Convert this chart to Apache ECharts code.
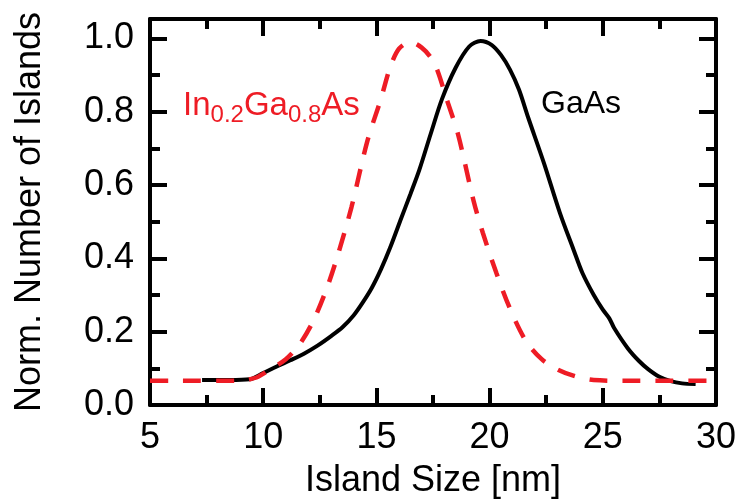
<!DOCTYPE html>
<html>
<head>
<meta charset="utf-8">
<script src="https://cdn.jsdelivr.net/npm/echarts@6/dist/echarts.min.js"></script>
<style>
html,body{margin:0;padding:0;background:#fff;}
#chart{width:742px;height:504px;}
</style>
</head>
<body>
<div id="chart"></div>
<script>
// ---- data ----
const gaasX = [7.3, 8.5, 9.4, 10.0, 10.6, 11.2, 11.8, 12.4, 13.0, 13.5, 14.0, 14.4, 14.8, 15.2, 15.6, 16.1, 16.5, 16.9, 17.4, 17.9, 18.5, 19.1, 19.6, 20.1, 20.5, 20.9, 21.3, 21.7, 22.4, 23.1, 23.7, 24.1, 24.6, 25.0, 25.3, 25.5, 26.1, 26.6, 27.0, 27.5, 28.0, 28.5, 29.1];
const gaasY = [0.068, 0.068, 0.070, 0.087, 0.105, 0.122, 0.140, 0.162, 0.188, 0.212, 0.245, 0.280, 0.320, 0.370, 0.428, 0.510, 0.575, 0.642, 0.740, 0.835, 0.920, 0.978, 0.993, 0.982, 0.955, 0.915, 0.860, 0.785, 0.660, 0.525, 0.425, 0.360, 0.300, 0.260, 0.235, 0.210, 0.155, 0.120, 0.098, 0.077, 0.065, 0.059, 0.057];
const ingaX = [5.0, 6.0, 7.0, 8.0, 9.0, 9.7, 10.3, 11.0, 11.6, 12.2, 12.8, 13.3, 13.9, 14.6, 15.2, 15.6, 16.0, 16.5, 17.0, 17.4, 17.7, 18.1, 18.6, 19.3, 19.7, 20.3, 20.9, 21.6, 22.3, 23.0, 23.8, 24.6, 26.0, 28.0, 30.0];
const ingaY = [0.066, 0.066, 0.066, 0.066, 0.067, 0.075, 0.097, 0.125, 0.165, 0.228, 0.317, 0.410, 0.540, 0.720, 0.835, 0.920, 0.972, 0.990, 0.975, 0.948, 0.912, 0.835, 0.740, 0.555, 0.470, 0.360, 0.263, 0.175, 0.125, 0.097, 0.078, 0.068, 0.066, 0.066, 0.066];
const xTickLabels = ['5', '10', '15', '20', '25', '30'];
const yTickLabels = ['0.0', '0.2', '0.4', '0.6', '0.8', '1.0'];
const labelGaAs = { x: 22.27, y: 0.82, text: 'GaAs' };
const labelInGa = { x: 6.46, y: 0.815, text: '{m|In}{s|0.2}{m|Ga}{s|0.8}{m|As}' };
const xTitle = 'Island Size [nm]';
const yTitle = 'Norm. Number of Islands';

// ---- chart ----
const FONT = "'Liberation Sans', Arial, sans-serif";
const RED = '#ee1c25';
const chart = echarts.init(document.getElementById('chart'), null, { renderer: 'canvas' });

const axLine = { show: true, onZero: false, lineStyle: { color: '#000', width: 4 } };
const zip = (xs, ys) => xs.map((x, i) => [x, ys[i]]);

function xAx(pos, labels) {
  return {
    type: 'value', position: pos, min: 5, max: 30, interval: 5,
    axisLine: axLine,
    axisTick: { show: true, inside: true, length: 17, lineStyle: { color: '#000', width: 4 } },
    minorTick: { show: true, splitNumber: 2, length: 10, lineStyle: { color: '#000', width: 4 } },
    splitLine: { show: false }, minorSplitLine: { show: false },
    axisLabel: {
      show: labels, margin: 15, fontSize: 36, fontFamily: FONT, color: '#000',
      formatter: v => { const i = xTickLabels.indexOf(String(v)); return i >= 0 ? xTickLabels[i] : ''; }
    },
    name: labels ? xTitle : '', nameLocation: 'middle', nameGap: 58,
    nameTextStyle: { fontSize: 36, fontFamily: FONT, color: '#000' }
  };
}
function yAx(pos, labels, interval, len, line) {
  return {
    type: 'value', position: pos, min: 0, max: 1.053, interval: interval,
    axisLine: line ? axLine : { show: false },
    axisTick: { show: true, inside: true, length: len, lineStyle: { color: '#000', width: 4 } },
    splitLine: { show: false },
    axisLabel: {
      show: labels, margin: 16, fontSize: 36, fontFamily: FONT, color: '#000',
      formatter: v => { const k = Math.round(v / 0.2); return Math.abs(v - k * 0.2) < 1e-6 && k < yTickLabels.length ? yTickLabels[k] : ''; }
    },
    name: labels ? yTitle : '', nameLocation: 'middle', nameGap: 102,
    nameTextStyle: { fontSize: 36, fontFamily: FONT, color: '#000' }
  };
}

chart.setOption({
  animation: false,
  backgroundColor: '#fff',
  grid: { left: 150, right: 26, top: 19, bottom: 97, containLabel: false },
  xAxis: [xAx('bottom', true), xAx('top', false)],
  yAxis: [
    yAx('left', true, 0.2, 17, true),
    yAx('right', false, 0.2, 17, true),
    yAx('left', false, 0.1, 10, false),
    yAx('right', false, 0.1, 10, false)
  ],
  series: [
    {
      type: 'line', name: 'GaAs', xAxisIndex: 0, yAxisIndex: 0,
      data: zip(gaasX, gaasY), smooth: 0.3, symbol: 'none',
      lineStyle: { color: '#000', width: 4 }, z: 2
    },
    {
      type: 'line', name: 'InGaAs', xAxisIndex: 0, yAxisIndex: 0,
      data: zip(ingaX, ingaY), smooth: 0.3, symbol: 'none',
      lineStyle: { color: RED, width: 4.5, type: [18, 15], cap: 'butt' }, z: 3
    },
    {
      type: 'scatter', xAxisIndex: 0, yAxisIndex: 0, symbolSize: 0, silent: true,
      itemStyle: { opacity: 1 },
      data: [[labelGaAs.x, labelGaAs.y]],
      label: { show: true, position: 'right', distance: 0, formatter: labelGaAs.text, opacity: 1,
        fontSize: 32, fontFamily: FONT, color: '#000' }
    },
    {
      type: 'scatter', xAxisIndex: 0, yAxisIndex: 0, symbolSize: 0, silent: true,
      itemStyle: { opacity: 1 },
      data: [[labelInGa.x, labelInGa.y]],
      label: { show: true, position: 'right', distance: 0, formatter: labelInGa.text, opacity: 1,
        rich: {
          m: { fontSize: 33, fontFamily: FONT, color: RED, lineHeight: 42, verticalAlign: 'middle' },
          s: { fontSize: 24, fontFamily: FONT, color: RED, lineHeight: 23, verticalAlign: 'bottom' }
        } }
    }
  ]
});
</script>
</body>
</html>
